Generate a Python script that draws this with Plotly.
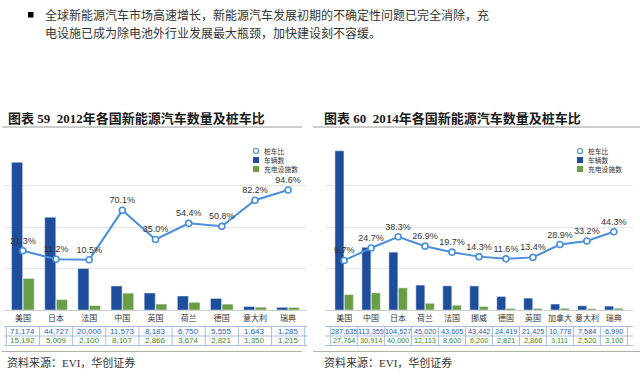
import plotly.graph_objects as go

W, H = 640, 378

# ---------------- data ----------------
cats_2012 = ["美国", "日本", "法国", "中国", "英国", "荷兰", "德国", "意大利", "瑞典"]
cars_2012 = [71174, 44727, 20000, 11573, 8183, 6750, 5555, 1643, 1285]
piles_2012 = [15192, 5009, 2100, 8107, 2866, 3674, 2821, 1350, 1215]
ratio_2012 = [21.3, 11.2, 10.5, 70.1, 35.0, 54.4, 50.8, 82.2, 94.6]

cats_2014 = ["美国", "中国", "日本", "荷兰", "法国", "挪威", "德国", "英国", "加拿大", "意大利", "瑞典"]
cars_2014 = [287635, 113355, 104527, 45020, 43605, 43442, 24419, 21425, 10778, 7584, 6990]
piles_2014 = [27764, 30914, 40000, 12113, 8600, 6200, 2821, 2866, 3111, 2520, 3100]
ratio_2014 = [9.7, 24.7, 38.3, 26.9, 19.7, 14.3, 11.6, 13.4, 28.9, 33.2, 44.3]

legend_names = ["桩车比", "车辆数", "充电设施数"]
intro_lines = ["全球新能源汽车市场高速增长，新能源汽车发展初期的不确定性问题已完全消除，充",
               "电设施已成为除电池外行业发展最大瓶颈，加快建设刻不容缓。"]
title_left = "图表 59  2012年各国新能源汽车数量及桩车比"
title_right = "图表 60  2014年各国新能源汽车数量及桩车比"
source_text = "资料来源：EVI，华创证券"

# ---------------- styles ----------------
BLUE = "#1d4d9b"
GREEN = "#6a9e44"
LINE = "#4a8fdc"
TXT_BLUE = "#2a62b5"
TXT_GREEN = "#3f8a2a"
TBL = "#a9bfdc"
CJK = "Noto Sans CJK SC"
SANS = "Liberation Sans, Noto Sans CJK SC"
SERIF = "Liberation Serif, Noto Sans CJK SC"


def px(x):
    return x / W


def py(y):
    return (H - y) / H


fig = go.Figure()

panels = [
    dict(cats=cats_2012, cars=cars_2012, piles=piles_2012, ratio=ratio_2012,
         xa="x", ya="y", ya2="y2", x0=4, x1=307, tsize=8),
    dict(cats=cats_2014, cars=cars_2014, piles=piles_2014, ratio=ratio_2014,
         xa="x2", ya="y3", ya2="y4", x0=325, x1=633, tsize=7.3),
]

for p in panels:
    fig.add_trace(go.Bar(x=p["cats"], y=p["cars"], name=legend_names[1], marker_color=BLUE,
                         xaxis=p["xa"], yaxis=p["ya"], showlegend=False, hoverinfo="x+y"))
    fig.add_trace(go.Bar(x=p["cats"], y=p["piles"], name=legend_names[2], marker_color=GREEN,
                         xaxis=p["xa"], yaxis=p["ya"], showlegend=False, hoverinfo="x+y"))
    fig.add_trace(go.Scatter(x=p["cats"], y=p["ratio"], name=legend_names[0],
                             mode="lines+markers+text", xaxis=p["xa"], yaxis=p["ya2"],
                             line=dict(color=LINE, width=2),
                             marker=dict(symbol="circle", size=6, color="white",
                                         line=dict(color=LINE, width=1.6)),
                             texttemplate="%{y:.1f}%", textposition="top center",
                             textfont=dict(size=9, color="#333333", family=SANS),
                             showlegend=False, cliponaxis=False))

PLOT_TOP, PLOT_BOT = 144, 310
ydom = [py(PLOT_BOT), py(PLOT_TOP)]

axis_common = dict(type="category", showline=True, linecolor="#cfcfcf", linewidth=1,
                   ticks="", tickfont=dict(size=8, color="#333333", family=SANS),
                   showgrid=False, fixedrange=True)
yax_common = dict(showticklabels=False, showgrid=True, gridcolor="#e6e6e6", gridwidth=1,
                  zeroline=False, ticks="", fixedrange=True)
y2_common = dict(range=[-50, 150], showticklabels=False, showgrid=False, zeroline=False,
                 ticks="", fixedrange=True)

fig.update_layout(
    width=W, height=H,
    margin=dict(l=0, r=0, t=0, b=0),
    paper_bgcolor="white", plot_bgcolor="white",
    barmode="group", bargap=0.3, bargroupgap=0.05,
    showlegend=False,
    xaxis=dict(domain=[px(4), px(307)], anchor="y", **axis_common),
    yaxis=dict(domain=ydom, anchor="x", range=[0, 80000], dtick=20000, **yax_common),
    yaxis2=dict(overlaying="y", anchor="x", side="right", **y2_common),
    xaxis2=dict(domain=[px(325), px(633)], anchor="y3", **axis_common),
    yaxis3=dict(domain=ydom, anchor="x2", range=[0, 300000], dtick=75000, **yax_common),
    yaxis4=dict(overlaying="y3", anchor="x2", side="right", **y2_common),
    font=dict(family=SANS),
)

shapes = []
annotations = []

# intro text with bullet
shapes.append(dict(type="rect", xref="paper", yref="paper", x0=px(28), x1=px(33.5),
                   y0=py(17.5), y1=py(12), fillcolor="black", line=dict(width=0)))
for i, line in enumerate(intro_lines):
    annotations.append(dict(text=line, xref="paper", yref="paper", x=px(43), y=py(14.5 + 17.5 * i),
                            xanchor="left", yanchor="middle", showarrow=False,
                            font=dict(size=12, color="#333333", family=CJK)))

# titles + rules
for title, tx, lx0, lx1 in [(title_left, 6, 2, 302), (title_right, 322, 313, 640)]:
    annotations.append(dict(text="<b>" + title + "</b>", xref="paper", yref="paper", x=px(tx), y=py(118),
                            xanchor="left", yanchor="middle", showarrow=False,
                            font=dict(size=13, color="#1a1a1a", family=SERIF)))
    shapes.append(dict(type="line", xref="paper", yref="paper", x0=px(lx0), x1=px(lx1),
                       y0=py(127), y1=py(127), line=dict(color="#9a9a9a", width=1)))
# source + rules
for sx, lx0, lx1 in [(5, 2, 302), (322, 313, 640)]:
    shapes.append(dict(type="line", xref="paper", yref="paper", x0=px(lx0), x1=px(lx1),
                       y0=py(351.5), y1=py(351.5), line=dict(color="#b0b0b0", width=1)))
    annotations.append(dict(text=source_text, xref="paper", yref="paper", x=px(sx), y=py(362.5),
                            xanchor="left", yanchor="middle", showarrow=False,
                            font=dict(size=11, color="#333333", family=SERIF)))

# data tables beneath each chart
T_TOP, T_MID, T_BOT = 326.5, 336, 345.5
for p in panels:
    n = len(p["cats"])
    xref = p["xa"]
    for yy in (T_TOP, T_MID, T_BOT):
        shapes.append(dict(type="line", xref="paper", yref="paper", x0=px(p["x0"]), x1=px(p["x1"]),
                           y0=py(yy), y1=py(yy), line=dict(color=TBL, width=1)))
    for k in range(n + 1):
        shapes.append(dict(type="line", xref=xref, yref="paper", x0=k - 0.5, x1=k - 0.5,
                           y0=py(T_BOT), y1=py(T_TOP), line=dict(color=TBL, width=1)))
    for c, v1, v2 in zip(p["cats"], p["cars"], p["piles"]):
        annotations.append(dict(text=f"{v1:,}", xref=xref, yref="paper", x=c, y=py((T_TOP + T_MID) / 2),
                                xanchor="center", yanchor="middle", showarrow=False,
                                font=dict(size=p["tsize"], color=TXT_BLUE, family=SANS)))
        annotations.append(dict(text=f"{v2:,}", xref=xref, yref="paper", x=c, y=py((T_MID + T_BOT) / 2),
                                xanchor="center", yanchor="middle", showarrow=False,
                                font=dict(size=p["tsize"], color=TXT_GREEN, family=SANS)))

# manual compact legends
LEG_Y = [151, 160, 169]
for mx in (256, 580):
    shapes.append(dict(type="circle", xref="paper", yref="paper", x0=px(mx - 2.5), x1=px(mx + 2.5),
                       y0=py(LEG_Y[0] + 2.5), y1=py(LEG_Y[0] - 2.5), fillcolor="white",
                       line=dict(color=LINE, width=1.2)))
    shapes.append(dict(type="rect", xref="paper", yref="paper", x0=px(mx - 3), x1=px(mx + 3),
                       y0=py(LEG_Y[1] + 3), y1=py(LEG_Y[1] - 3), fillcolor=BLUE, line=dict(width=0)))
    shapes.append(dict(type="rect", xref="paper", yref="paper", x0=px(mx - 3), x1=px(mx + 3),
                       y0=py(LEG_Y[2] + 3), y1=py(LEG_Y[2] - 3), fillcolor=GREEN, line=dict(width=0)))
    for j, name in enumerate(legend_names):
        annotations.append(dict(text=name, xref="paper", yref="paper", x=px(mx + 6), y=py(LEG_Y[j]),
                                xanchor="left", yanchor="middle", showarrow=False,
                                font=dict(size=6.8, color="#333333", family=CJK)))

fig.update_layout(shapes=shapes, annotations=annotations)
fig.write_html("out.html", config={"displayModeBar": False},
               post_script="document.body.style.margin='0px';")
